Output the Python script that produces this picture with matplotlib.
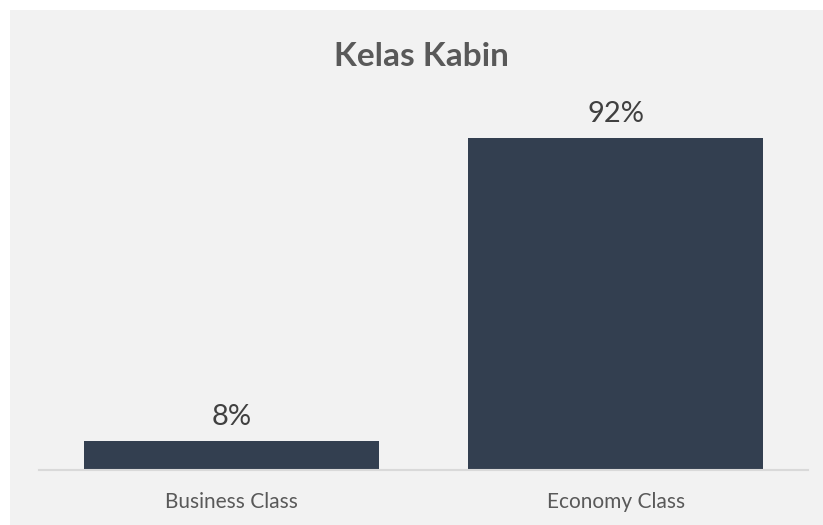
import matplotlib.pyplot as plt
from matplotlib.patches import Rectangle

# data
categories = ["Business Class", "Economy Class"]
shares = [8, 92]
labels = ["8%", "92%"]

bar_color = "#333F50"
text_color = "#595959"
bg = "#F2F2F2"

plt.rcParams['font.family'] = ['Lato', 'DejaVu Sans']

W, H = 823, 525
fig = plt.figure(figsize=(W / 100, H / 100), dpi=100)
fig.patch.set_facecolor(bg)
# thin white margin along top and left
fig.patches.append(Rectangle((0, 1 - 10 / H), 1, 10 / H, transform=fig.transFigure,
                             facecolor="white", edgecolor="none"))
fig.patches.append(Rectangle((0, 0), 10 / W, 1, transform=fig.transFigure,
                             facecolor="white", edgecolor="none"))

ax = fig.add_axes([39 / W, (H - 470) / H, (808 - 39) / W, (470 - 109) / H])
ax.patch.set_alpha(0)

x = range(len(categories))
ax.bar(x, shares, width=0.767, color=bar_color)
for i, v in enumerate(shares):
    ax.text(i, v + 3.0, labels[i], ha="center", va="bottom", fontsize=21, color="#404040")

ax.set_xlim(-0.5, 1.5)
ax.set_ylim(0, 100)
ax.set_xticks(list(x))
ax.set_xticklabels(categories, fontsize=15, color=text_color)
ax.tick_params(axis="x", length=0, pad=16)
ax.set_yticks([])
for s in ["top", "left", "right"]:
    ax.spines[s].set_visible(False)
ax.spines["bottom"].set_color("#D9D9D9")
ax.spines["bottom"].set_linewidth(1.5)

fig.text((W / 2 + 10) / W, 1 - 56 / H, "Kelas Kabin", ha="center", va="center",
         fontsize=24, fontweight="bold", color=text_color)

fig.savefig("out.png", dpi=100, facecolor=fig.get_facecolor())
